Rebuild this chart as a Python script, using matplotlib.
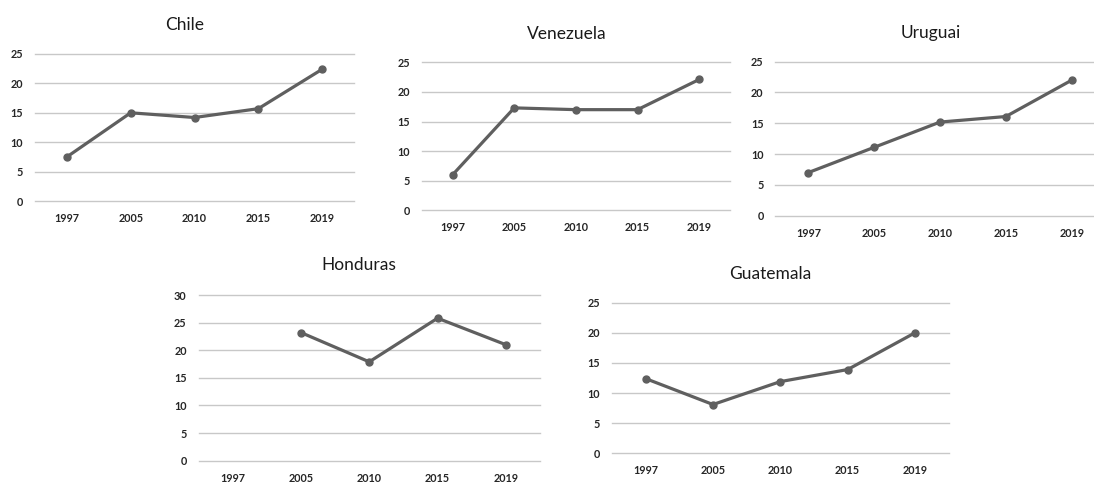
import matplotlib
matplotlib.use("Agg")
import matplotlib.pyplot as plt

years = ["1997", "2005", "2010", "2015", "2019"]

chile = [7.5, 15.0, 14.2, 15.7, 22.4]
venezuela = [6.0, 17.3, 17.0, 17.0, 22.1]
uruguai = [7.0, 11.1, 15.2, 16.1, 22.0]
honduras = [None, 23.2, 17.9, 25.8, 21.0]
guatemala = [12.4, 8.1, 11.9, 13.9, 20.0]

W, H = 1094, 482
fig = plt.figure(figsize=(W / 100, H / 100), dpi=100)
plt.rcParams["font.family"] = ["Lato", "DejaVu Sans"]

LINE = "#5f5f5f"
GRID = "#c8c8c8"
TICK = "#262626"


def panel(name, values, ymax, box, title_xy):
    # box in pixels: left, top, right, bottom of the plotting area
    left, top, right, bottom = box
    ax = fig.add_axes([left / W, 1 - bottom / H, (right - left) / W, (bottom - top) / H])
    xs = [i for i, v in enumerate(values) if v is not None]
    ys = [v for v in values if v is not None]
    ax.plot(xs, ys, color=LINE, lw=2.3, marker="o", ms=5, zorder=3)
    ax.set_xlim(-0.5, len(years) - 0.5)
    ax.set_ylim(0, ymax)
    ax.set_yticks(range(0, ymax + 1, 5))
    ax.set_xticks(range(len(years)))
    ax.set_xticklabels(years)
    ax.grid(axis="y", color=GRID, lw=1.0)
    for gl in ax.get_ygridlines():
        gl.set_clip_on(False)
    ax.set_axisbelow(True)
    for s in ax.spines.values():
        s.set_visible(False)
    ax.tick_params(length=0, labelsize=7.8, labelcolor=TICK, pad=8.5)
    for lab in ax.get_xticklabels() + ax.get_yticklabels():
        lab.set_fontweight("bold")
    fig.text(title_xy[0] / W, 1 - title_xy[1] / H, name, ha="center", va="center",
             fontsize=12.5, color="#1a1a1a")
    return ax


panel("Chile", chile, 25, (35, 54, 354, 201), (185, 25))
panel("Venezuela", venezuela, 25, (421.8, 62.3, 730, 210.3), (566.7, 34))
panel("Uruguai", uruguai, 25, (775.4, 61.7, 1104.6, 215.7), (930.7, 32.7))
panel("Honduras", honduras, 30, (198.5, 295, 540, 460.7), (359, 265))
panel("Guatemala", guatemala, 25, (612, 302.7, 948.6, 453.3), (770.7, 274))

fig.savefig("out.png", dpi=100)
